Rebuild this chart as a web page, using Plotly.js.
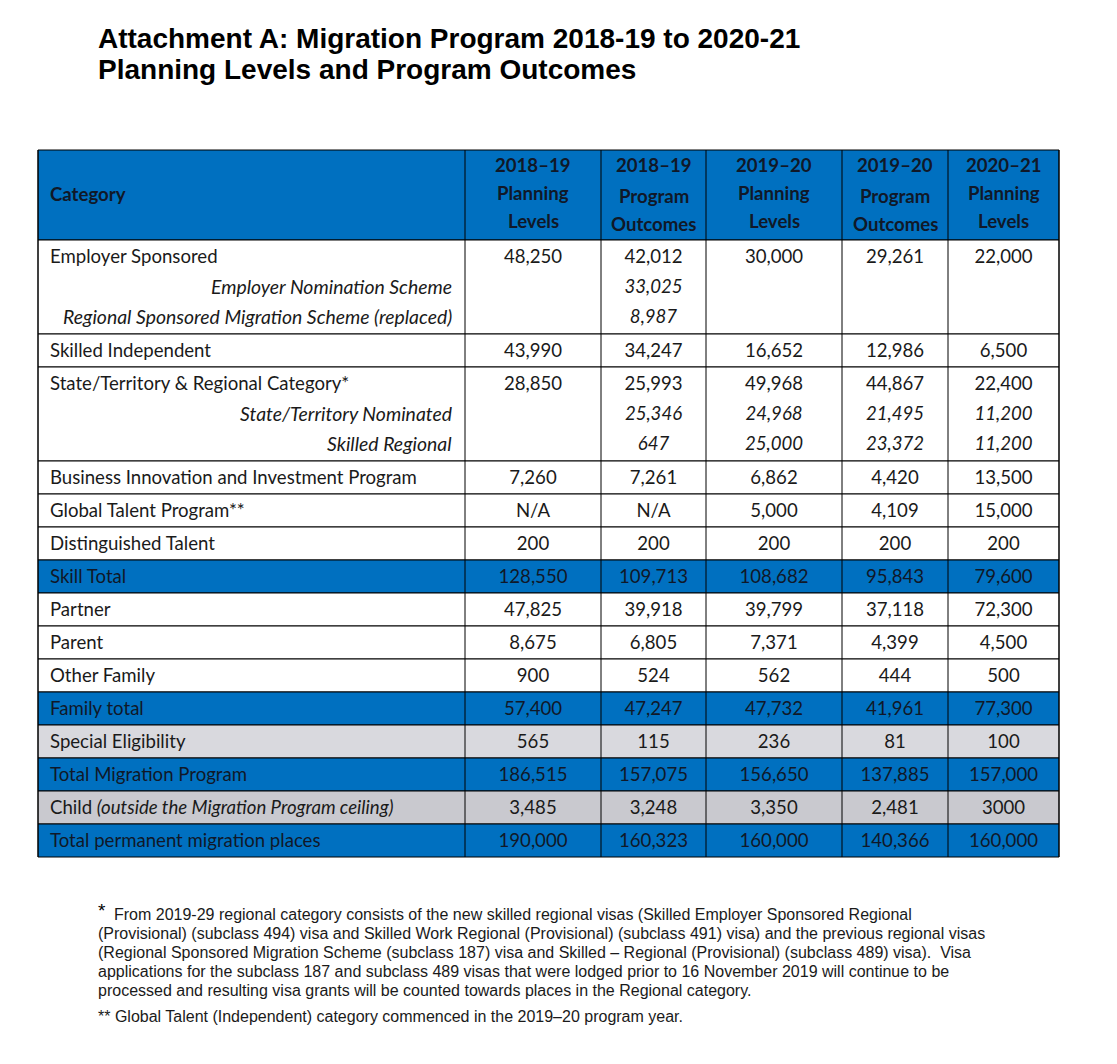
<!DOCTYPE html>
<html>
<head>
<meta charset="utf-8">
<script src="https://cdn.plot.ly/plotly-3.0.1.min.js"></script>
<style>html,body{margin:0;padding:0;background:#fff;}</style>
</head>
<body>
<div id="chart" style="width:1117px;height:1064px;"></div>
<script>
// ---------------- DATA ----------------
const columnHeaders = [
  ["2018–19", "Planning", "Levels"],
  ["2018–19", "Program", "Outcomes"],
  ["2019–20", "Planning", "Levels"],
  ["2019–20", "Program", "Outcomes"],
  ["2020–21", "Planning", "Levels"]
];
const categories = [
  "Employer Sponsored",
  "Employer Nomination Scheme",
  "Regional Sponsored Migration Scheme (replaced)",
  "Skilled Independent",
  "State/Territory & Regional Category*",
  "State/Territory Nominated",
  "Skilled Regional",
  "Business Innovation and Investment Program",
  "Global Talent Program**",
  "Distinguished Talent",
  "Skill Total",
  "Partner",
  "Parent",
  "Other Family",
  "Family total",
  "Special Eligibility",
  "Total Migration Program",
  "Child <i>(outside the Migration Program ceiling)</i>",
  "Total permanent migration places"
];
const planning1819 = ["48,250","","","43,990","28,850","","","7,260","N/A","200","128,550","47,825","8,675","900","57,400","565","186,515","3,485","190,000"];
const outcomes1819 = ["42,012","33,025","8,987","34,247","25,993","25,346","647","7,261","N/A","200","109,713","39,918","6,805","524","47,247","115","157,075","3,248","160,323"];
const planning1920 = ["30,000","","","16,652","49,968","24,968","25,000","6,862","5,000","200","108,682","39,799","7,371","562","47,732","236","156,650","3,350","160,000"];
const outcomes1920 = ["29,261","","","12,986","44,867","21,495","23,372","4,420","4,109","200","95,843","37,118","4,399","444","41,961","81","137,885","2,481","140,366"];
const planning2021 = ["22,000","","","6,500","22,400","11,200","11,200","13,500","15,000","200","79,600","72,300","4,500","500","77,300","100","157,000","3000","160,000"];
// row kinds: main / sub (italic sub-item) / total / special / child
const rowKinds = ["main","sub","sub","main","main","sub","sub","main","main","main","total","main","main","main","total","special","total","child","total"];

const titleLines = ["Attachment A: Migration Program 2018-19 to 2020-21", "Planning Levels and Program Outcomes"];
const footnote1 = [
  "From 2019-29 regional category consists of the new skilled regional visas (Skilled Employer Sponsored Regional",
  "(Provisional) (subclass 494) visa and Skilled Work Regional (Provisional) (subclass 491) visa) and the previous regional visas",
  "(Regional Sponsored Migration Scheme (subclass 187) visa and Skilled – Regional (Provisional) (subclass 489) visa).  Visa",
  "applications for the subclass 187 and subclass 489 visas that were lodged prior to 16 November 2019 will continue to be",
  "processed and resulting visa grants will be counted towards places in the Regional category."
];
const footnote2 = "** Global Talent (Independent) category commenced in the 2019–20 program year.";

// ---------------- LAYOUT / STYLE ----------------
const W = 1117, H = 1064;
const colEdges = [38, 465, 601, 706, 842, 948, 1059];
const tableTop = 150, headerH = 90, mainH = 33, subH = 30.5;
const BLUE = "#0070C0", GRAY1 = "#D9D9DE", GRAY2 = "#C9C9CF";
const FONT = "Lato, Carlito, Calibri, sans-serif";
const FS = 18.6, FS_SUB = 19.4;
const TXT = "#1a1a1a", TXT_BLUE = "#101828";

const valueCols = [planning1819, outcomes1819, planning1920, outcomes1920, planning2021];

// compute row geometry
const rowTop = [], rowH = [];
let yy = tableTop + headerH;
rowKinds.forEach((k, i) => {
  const h = k === "sub" ? subH : mainH;
  rowTop.push(yy); rowH.push(h); yy += h;
});
const tableBottom = yy;

const shapes = [];
const annotations = [];

// header background
shapes.push({type:"rect", xref:"x", yref:"y", x0:colEdges[0], x1:colEdges[6], y0:tableTop, y1:tableTop+headerH,
  fillcolor:BLUE, line:{color:"#000", width:1}, layer:"below"});

// group rectangles (main row + following sub rows)
function fillFor(k){ return k==="total"?BLUE:k==="special"?GRAY1:k==="child"?GRAY2:"#ffffff"; }
for (let i = 0; i < rowKinds.length; i++) {
  if (rowKinds[i] === "sub") continue;
  let j = i + 1;
  while (j < rowKinds.length && rowKinds[j] === "sub") j++;
  const y0 = rowTop[i], y1 = rowTop[j-1] + rowH[j-1];
  shapes.push({type:"rect", xref:"x", yref:"y", x0:colEdges[0], x1:colEdges[6], y0:y0, y1:y1,
    fillcolor:fillFor(rowKinds[i]), line:{color:"#000", width:1}, layer:"below"});
}
// vertical column lines
colEdges.forEach(x => {
  shapes.push({type:"line", xref:"x", yref:"y", x0:x, x1:x, y0:tableTop, y1:tableBottom,
    line:{color:"#000", width:1}, layer:"below"});
});

// header texts
annotations.push({xref:"x", yref:"y", x:colEdges[0]+10, y:tableTop+headerH/2-1, text:"<b>Category</b>",
  showarrow:false, xanchor:"left", yanchor:"middle", font:{family:FONT, size:FS, color:TXT_BLUE}});
columnHeaders.forEach((lines, c) => {
  const cx = (colEdges[c+1] + colEdges[c+2]) / 2;
  const outcome = lines[1] === "Program";
  lines.forEach((ln, li) => {
    const dy = outcome && li > 0 ? 3 : 0;
    annotations.push({xref:"x", yref:"y", x:cx, y:tableTop + 15 + li*28 + dy, text:"<b>"+ln+"</b>",
      showarrow:false, xanchor:"center", yanchor:"middle", font:{family:FONT, size:FS, color:TXT_BLUE}});
  });
});

// category labels
categories.forEach((cat, i) => {
  const k = rowKinds[i];
  const cy = rowTop[i] + rowH[i]/2 + (k === "sub" ? -2 : -1);
  const isBlue = k === "total";
  if (k === "sub") {
    annotations.push({xref:"x", yref:"y", x:colEdges[1]-11, y:cy, text:"<i>"+cat+"</i>", showarrow:false,
      xanchor:"right", yanchor:"middle", font:{family:FONT, size:FS_SUB, color:TXT}});
  } else {
    annotations.push({xref:"x", yref:"y", x:colEdges[0]+10, y:cy, text:cat, showarrow:false,
      xanchor:"left", yanchor:"middle", font:{family:FONT, size:FS, color:isBlue?TXT_BLUE:TXT}});
  }
});

// value cells as a text trace
const xs = [], ys = [], ts = [], cols = [];
valueCols.forEach((arr, c) => {
  const cx = (colEdges[c+1] + colEdges[c+2]) / 2;
  arr.forEach((v, i) => {
    if (v === "") return;
    const k = rowKinds[i];
    xs.push(cx);
    ys.push(rowTop[i] + rowH[i]/2 + (k === "sub" ? 0 : 1.5));
    ts.push(k === "sub" ? "<i>"+v+"</i>" : v);
    cols.push(k === "total" ? TXT_BLUE : TXT);
  });
});

// title
titleLines.forEach((t, i) => {
  annotations.push({xref:"paper", yref:"paper", x:96/W, y:1-(39+i*31)/H, text:"<b>"+t+"</b>", showarrow:false,
    xanchor:"left", yanchor:"middle", font:{family:"Liberation Sans, Arial, sans-serif", size:28, color:"#000"}});
});

// footnotes
const FN_FONT = "Liberation Sans, Arial, sans-serif";
annotations.push({xref:"paper", yref:"paper", x:96/W, y:1-910/H, text:"*", showarrow:false,
  xanchor:"left", yanchor:"middle", font:{family:FN_FONT, size:19, color:"#000"}});
footnote1.forEach((t, i) => {
  annotations.push({xref:"paper", yref:"paper", x:(i===0?112:96)/W, y:1-(914+i*19)/H, text:t, showarrow:false,
    xanchor:"left", yanchor:"middle", font:{family:FN_FONT, size:16, color:"#1a1a1a"}});
});
annotations.push({xref:"paper", yref:"paper", x:96/W, y:1-1016/H, text:footnote2, showarrow:false,
  xanchor:"left", yanchor:"middle", font:{family:FN_FONT, size:16, color:"#1a1a1a"}});

const trace = {
  type:"scatter", mode:"text", x:xs, y:ys, text:ts, textposition:"middle center",
  textfont:{family:FONT, size:FS, color:cols}, hoverinfo:"skip", showlegend:false
};

const layout = {
  width:W, height:H, margin:{l:0,r:0,t:0,b:0},
  paper_bgcolor:"#ffffff", plot_bgcolor:"#ffffff",
  xaxis:{range:[0,W], visible:false, fixedrange:true},
  yaxis:{range:[H,0], visible:false, fixedrange:true},
  shapes:shapes, annotations:annotations, showlegend:false
};

Plotly.newPlot("chart", [trace], layout, {displayModeBar:false, staticPlot:true});
</script>
</body>
</html>
